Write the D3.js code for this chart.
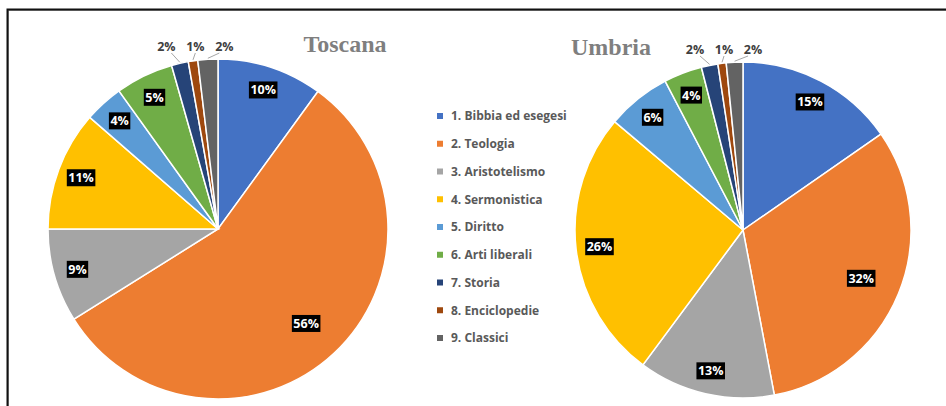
<!DOCTYPE html>
<html>
<head>
<meta charset="utf-8">
<script src="https://cdn.jsdelivr.net/npm/d3@7/dist/d3.min.js"></script>
<style>
  html, body { margin: 0; padding: 0; background: #fff; }
  svg { display: block; }
</style>
</head>
<body>
<svg id="chart" width="946" height="406"></svg>
<script>
// Categories (legend order) and slice shares per region, in percent
const categories = [
  "1. Bibbia ed esegesi", "2. Teologia", "3. Aristotelismo", "4. Sermonistica",
  "5. Diritto", "6. Arti liberali", "7. Storia", "8. Enciclopedie", "9. Classici"
];
const toscanaValues = [10.0, 56.1, 8.9, 11.4, 3.7, 5.5, 1.6, 0.9, 1.9];
const umbriaValues  = [15.4, 31.8, 13.2, 26.1, 6.2, 3.7, 1.6, 0.8, 1.6];
const regionNames = ["Toscana", "Umbria"];

const colors = ["#4472C4", "#ED7D31", "#A5A5A5", "#FFC000", "#5B9BD5",
                "#70AD47", "#264478", "#9E480E", "#636363"];

const svg = d3.select("#chart");

// outer frame (only top and left edges fall inside the view)
svg.append("rect").attr("x", 8.5).attr("y", 10.5).attr("width", 1000).attr("height", 500)
  .attr("fill", "none").attr("stroke", "#a0a0a0").attr("stroke-width", 1);
svg.append("rect").attr("x", 7.5).attr("y", 9.5).attr("width", 1000).attr("height", 500)
  .attr("fill", "none").attr("stroke", "#111").attr("stroke-width", 2);

const color = d3.scaleOrdinal().domain(categories).range(colors);
const pct = d3.format(".0%");
const labelFont = "'Open Sans', 'DejaVu Sans', sans-serif";

function drawPie(values, name, cx, cy, R, titleX) {
  const data = categories.map((c, i) => ({ cat: c, value: values[i] }));
  const total = d3.sum(values);
  const pie = d3.pie().value(d => d.value).sort(null);
  const arcs = pie(data);
  const arc = d3.arc().innerRadius(0).outerRadius(R);
  const g = svg.append("g").attr("transform", `translate(${cx},${cy})`);

  g.selectAll("path.slice").data(arcs).join("path")
    .attr("class", "slice")
    .attr("d", arc)
    .attr("fill", d => color(d.data.cat))
    .attr("stroke", "#fff").attr("stroke-width", 1.5);

  const share = d => d.data.value / total;
  const inside = arcs.filter(d => share(d) >= 0.03);
  const outside = arcs.filter(d => share(d) < 0.03);

  // inside labels: white text on black boxes
  inside.forEach(d => {
    const a = (d.startAngle + d.endAngle) / 2;
    const r = R * (share(d) > 0.3 ? 0.76 : 0.86);
    const x = Math.sin(a) * r, y = -Math.cos(a) * r;
    const lg = g.append("g").attr("transform", `translate(${x},${y})`);
    const t = lg.append("text")
      .attr("text-anchor", "middle").attr("dy", "0.36em")
      .attr("font-family", labelFont)
      .attr("font-weight", 700).attr("font-size", 12.5)
      .attr("fill", "#fff")
      .text(pct(share(d)));
    const bb = t.node().getBBox();
    lg.insert("rect", "text")
      .attr("x", bb.x - 1.5).attr("y", bb.y).attr("width", bb.width + 3).attr("height", bb.height)
      .attr("fill", "#000");
  });

  // outside labels for thin slices, spread horizontally with leader lines
  const ly = -R - 13;
  const items = outside.map(d => {
    const a = (d.startAngle + d.endAngle) / 2;
    return { d, a, x: Math.sin(a) * R * 1.05 };
  }).sort((p, q) => p.x - q.x);
  const meanX = d3.mean(items, p => p.x);
  const gap = 29;
  for (let i = 1; i < items.length; i++) {
    if (items[i].x < items[i - 1].x + gap) items[i].x = items[i - 1].x + gap;
  }
  const shift = meanX - d3.mean(items, p => p.x) + 3;
  items.forEach(p => { p.x += shift; });

  items.forEach(p => {
    const ax = Math.sin(p.a) * R, ay = -Math.cos(p.a) * R;
    const lx = p.x + (ax > p.x ? 5 : ax < p.x - 6 ? -5 : 0);
    g.append("path")
      .attr("d", `M${ax},${ay - 1}L${lx},${ly + 7}`)
      .attr("stroke", "#a6a6a6").attr("stroke-width", 1).attr("fill", "none");
    g.append("text")
      .attr("x", p.x).attr("y", ly).attr("dy", "0.36em")
      .attr("text-anchor", "middle")
      .attr("font-family", labelFont)
      .attr("font-weight", 700).attr("font-size", 12.5)
      .attr("fill", "#404040")
      .text(pct(share(p.d)));
  });

  svg.append("text")
    .attr("x", titleX).attr("y", cy - R - 7)
    .attr("text-anchor", "middle")
    .attr("font-family", "'Liberation Serif', 'DejaVu Serif', serif")
    .attr("font-weight", 700).attr("font-size", 24)
    .attr("fill", "#7f7f7f")
    .text(name);
}

drawPie(toscanaValues, regionNames[0], 218, 229, 170, 345);
drawPie(umbriaValues, regionNames[1], 743, 230, 168, 611);

// legend
const legendY = d3.scalePoint().domain(categories).range([116, 338]);
const legend = svg.append("g");
categories.forEach(c => {
  const y = legendY(c);
  legend.append("rect")
    .attr("x", 437).attr("y", y - 3).attr("width", 6).attr("height", 6)
    .attr("fill", color(c));
  legend.append("text")
    .attr("x", 451).attr("y", y).attr("dy", "0.36em")
    .attr("font-family", labelFont)
    .attr("font-weight", 700).attr("font-size", 12)
    .attr("fill", "#595959")
    .text(c);
});
</script>
</body>
</html>
